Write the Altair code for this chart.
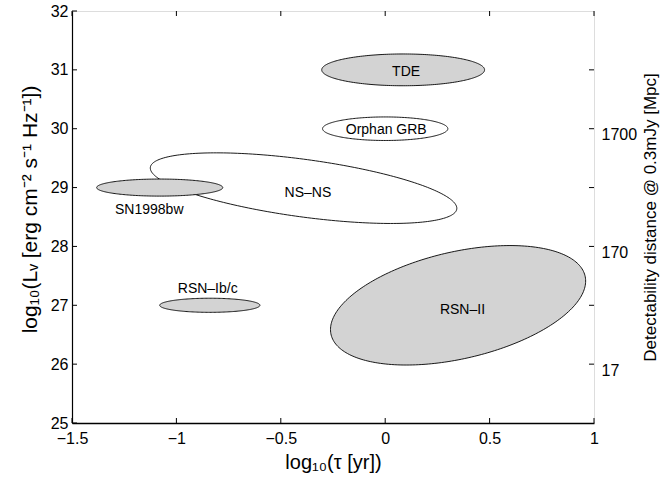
import altair as alt
import numpy as np
import pandas as pd

# ---- data ----
region_names = ["NS–NS", "SN1998bw", "TDE", "Orphan GRB", "RSN–Ib/c", "RSN–II"]
region_cx = [-0.391, -1.08, 0.086, 0.0, -0.84, 0.349]     # centre log10(tau)
region_cy = [28.99, 29.0, 31.0, 30.0, 27.0, 27.0]          # centre log10(L)
region_rx = [0.734, 0.302, 0.39, 0.30, 0.24, 0.611]        # half width in x
region_ry = [0.60, 0.145, 0.27, 0.20, 0.12, 1.015]         # half height in y
region_rho = [-0.57, 0.0, 0.0, 0.0, 0.0, 0.406]            # tilt (x-y correlation)
region_filled = [False, True, True, False, True, True]

label_text = ["TDE", "Orphan GRB", "NS–NS", "SN1998bw", "RSN–Ib/c", "RSN–II"]
label_x = [0.10, 0.005, -0.37, -1.13, -0.85, 0.37]
label_y = [30.97, 29.98, 28.9, 28.62, 27.27, 26.92]

x_ticks = [-1.5, -1.0, -0.5, 0.0, 0.5, 1.0]
y_ticks = [25, 26, 27, 28, 29, 30, 31, 32]
right_tick_vals = [26, 27, 28, 29, 30, 31]
right_tick_labels = ["17", "", "170", "", "1700", ""]

W, H = 522, 412
FONT = "Liberation Sans"
FILL = "#d3d3d3"

xs = alt.Scale(domain=[-1.5, 1.0], nice=False, zero=False)
ys = alt.Scale(domain=[25, 32], nice=False, zero=False)
ys_r = alt.Scale(domain=[25, 32], nice=False, zero=False)

x_axis = alt.Axis(values=x_ticks, format="~g", grid=False, ticks=False, tickSize=0,
                  domain=True, domainColor="black", domainWidth=1.4,
                  labelFlush=False, labelOverlap=False, labelPadding=7,
                  labelFontSize=16, labelColor="black", labelFont=FONT,
                  title="log₁₀(τ [yr])", titleFontSize=20, titleFontWeight="normal",
                  titleFont=FONT, titleColor="black", titleX=W / 2, titleY=45,
                  titleAlign="center", titleBaseline="alphabetic")
y_axis = alt.Axis(values=y_ticks, format="d", grid=False, ticks=False, tickSize=0,
                  domain=True, domainColor="black", domainWidth=1.2,
                  labelOverlap=False, labelPadding=4, labelFontSize=16,
                  labelColor="black", labelFont=FONT,
                  title="log₁₀(Lᵥ [erg cm⁻² s⁻¹ Hz⁻¹])", titleFontSize=21,
                  titleFontWeight="normal", titleFont=FONT, titleColor="black",
                  titleAngle=270, titleX=-36, titleY=H / 2 - 8, titleAlign="center",
                  titleBaseline="alphabetic")

label_expr = " : ".join(
    f"datum.value == {v} ? '{l}'" for v, l in zip(right_tick_vals, right_tick_labels)
) + " : ''"
r_axis = alt.Axis(orient="right", values=right_tick_vals, labelExpr=label_expr,
                  grid=False, ticks=False, tickSize=0, domain=False,
                  labelOverlap=False, labelPadding=7, labelOffset=6,
                  labelFontSize=16, labelColor="black", labelFont=FONT,
                  title="Detectability distance @ 0.3mJy [Mpc]", titleFontSize=17,
                  titleFontWeight="normal", titleFont=FONT, titleColor="black",
                  titleAngle=270, titleX=61, titleY=H / 2, titleAlign="center",
                  titleBaseline="alphabetic")

layers = []
t = np.linspace(0, 2 * np.pi, 241)
for i, name in enumerate(region_names):
    r = region_rho[i]
    ex = region_cx[i] + region_rx[i] * np.cos(t)
    ey = region_cy[i] + region_ry[i] * (r * np.cos(t) + np.sqrt(1 - r * r) * np.sin(t))
    df = pd.DataFrame({"x": ex, "y": ey, "k": np.arange(len(t)), "name": name})
    layers.append(
        alt.Chart(df).mark_line(
            fill=FILL if region_filled[i] else "white",
            stroke="black", strokeWidth=0.9, interpolate="linear-closed"
        ).encode(
            x=alt.X("x:Q", scale=xs, axis=x_axis),
            y=alt.Y("y:Q", scale=ys, axis=y_axis),
            order="k:Q",
        )
    )

labels_df = pd.DataFrame({"x": label_x, "y": label_y, "t": label_text})
layers.append(
    alt.Chart(labels_df).mark_text(font=FONT, fontSize=14, color="black",
                                   baseline="middle", align="center").encode(
        x=alt.X("x:Q", scale=xs, axis=x_axis),
        y=alt.Y("y:Q", scale=ys, axis=y_axis),
        text="t:N",
    )
)

yt_df = pd.DataFrame({"v": y_ticks})
xt_df = pd.DataFrame({"v": x_ticks})
layers.append(
    alt.Chart(yt_df).mark_rule(color="black", strokeWidth=1).encode(
        y=alt.Y("v:Q", scale=ys, axis=y_axis), x=alt.value(0), x2=alt.value(5))
)
layers.append(
    alt.Chart(xt_df).mark_rule(color="black", strokeWidth=1).encode(
        x=alt.X("v:Q", scale=xs, axis=x_axis), y=alt.value(0), y2=alt.value(5))
)
layers.append(
    alt.Chart(xt_df).mark_rule(color="black", strokeWidth=1).encode(
        x=alt.X("v:Q", scale=xs, axis=x_axis), y=alt.value(H - 5), y2=alt.value(H))
)

inner = alt.layer(*layers)

rt_df = pd.DataFrame({"v": right_tick_vals})
right = alt.Chart(rt_df).mark_rule(color="black", strokeWidth=1).encode(
    y=alt.Y("v:Q", scale=ys_r, axis=r_axis), x=alt.value(W - 5), x2=alt.value(W))

chart = alt.layer(inner, right).resolve_scale(y="independent").properties(
    width=W, height=H,
    padding={"left": 72, "top": 11, "right": 68, "bottom": 55},
    autosize=alt.AutoSizeParams(type="none"),
    background="white",
).configure_view(stroke="black", strokeWidth=1).configure(font=FONT)

chart.save("out.html", embed_options={"renderer": "svg", "actions": False})
